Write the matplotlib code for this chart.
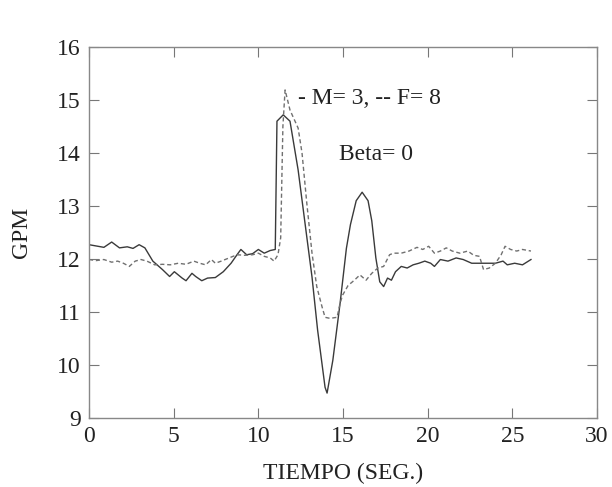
import matplotlib
matplotlib.use('Agg')
import matplotlib.pyplot as plt

# solid curve (M=3)
SOLID_T = [0, 0.88, 1.34, 1.8, 2.26, 2.6, 2.96, 3.3, 3.77, 4.34,
           4.76, 5.04, 5.5, 5.73, 6.08, 6.3, 6.66, 7.0, 7.46, 7.93,
           8.39, 8.74, 8.97, 9.31, 9.66, 10.0, 10.35, 10.7, 11.0, 11.1,
           11.47, 11.87, 12.35, 12.86, 13.17, 13.5, 13.94, 14.06, 14.4, 14.83,
           15.2, 15.44, 15.78, 16.13, 16.48, 16.7, 16.94, 17.17, 17.4, 17.63,
           17.86, 18.1, 18.44, 18.79, 19.14, 19.48, 19.83, 20.18, 20.4, 20.75,
           21.2, 21.68, 22.1, 22.6, 23.06, 23.5, 24.0, 24.45, 24.7, 25.14,
           25.6, 25.95, 26.1]
SOLID_V = [12.27, 12.22, 12.32, 12.21, 12.23, 12.2, 12.27, 12.21, 11.96, 11.8,
           11.67, 11.76, 11.64, 11.59, 11.73, 11.67, 11.59, 11.64, 11.65, 11.76,
           11.92, 12.08, 12.18, 12.08, 12.1, 12.18, 12.11, 12.16, 12.18, 14.6,
           14.72, 14.6, 13.68, 12.42, 11.66, 10.66, 9.58, 9.47, 10.09, 11.17,
           12.2, 12.65, 13.1, 13.26, 13.1, 12.72, 12.02, 11.57, 11.48, 11.64,
           11.6, 11.76, 11.86, 11.83, 11.89, 11.92, 11.96, 11.92, 11.86, 11.99,
           11.96, 12.02, 11.99, 11.92, 11.92, 11.92, 11.92, 11.96, 11.89, 11.92,
           11.89, 11.96, 11.99]

# dashed curve (F=8)
DASH_T = [0, 0.42, 0.88, 1.34, 1.69, 2.03, 2.38, 2.73, 3.07, 3.42,
          3.88, 4.34, 4.8, 5.27, 5.73, 6.19, 6.54, 6.89, 7.23, 7.46,
          7.81, 8.27, 8.74, 9.2, 9.66, 10.0, 10.35, 10.7, 10.93, 11.16,
          11.32, 11.45, 11.58, 11.87, 12.35, 12.58, 12.86, 13.17, 13.45, 13.76,
          13.94, 14.23, 14.65, 14.83, 14.98, 15.3, 15.67, 16.0, 16.36, 16.7,
          17.06, 17.4, 17.75, 17.98, 18.44, 18.9, 19.37, 19.71, 20.06, 20.4,
          20.75, 21.1, 21.45, 21.9, 22.37, 22.72, 23.06, 23.3, 23.64, 24.0,
          24.34, 24.57, 24.9, 25.26, 25.6, 26.1]
DASH_V = [11.99, 11.97, 11.99, 11.94, 11.96, 11.92, 11.86, 11.96, 11.99, 11.96,
          11.89, 11.9, 11.89, 11.92, 11.9, 11.96, 11.92, 11.89, 11.99, 11.92,
          11.96, 12.02, 12.08, 12.07, 12.08, 12.11, 12.05, 12.02, 11.96, 12.08,
          12.4, 14.5, 15.19, 14.81, 14.47, 14.0, 13.06, 12.11, 11.48, 11.1,
          10.9, 10.88, 10.9, 11.17, 11.32, 11.5, 11.6, 11.7, 11.6, 11.73,
          11.83, 11.86, 12.08, 12.11, 12.11, 12.15, 12.22, 12.18, 12.24, 12.11,
          12.15, 12.21, 12.15, 12.11, 12.15, 12.07, 12.05, 11.8, 11.83, 11.92,
          12.08, 12.24, 12.18, 12.15, 12.18, 12.15]

X_TICKS = [0, 5, 10, 15, 20, 25, 30]
Y_TICKS = [9, 10, 11, 12, 13, 14, 15, 16]

plt.rcParams['font.family'] = ['Liberation Serif', 'DejaVu Serif']
plt.rcParams['font.size'] = 17

fig = plt.figure(figsize=(6.12, 4.87), dpi=100)
ax = fig.add_axes([89 / 612, 1 - 418 / 487, 508 / 612, 371 / 487])

ax.plot(SOLID_T, SOLID_V, color='#3a3a3a', linewidth=1.0)
ax.plot(DASH_T, DASH_V, color='#707070', linewidth=1.0, dashes=(3, 2))

ax.set_xlim(0, 30)
ax.set_ylim(9, 16)
ax.set_xticks(X_TICKS)
ax.set_yticks(Y_TICKS)
ax.tick_params(direction='in', top=True, right=True, length=7, width=0.8,
               color='#777777', labelcolor='#222222', pad=6)
for sp in ax.spines.values():
    sp.set_color('#888888')
    sp.set_linewidth(1.0)

ax.text(12.34, 15.03, '- M= 3, -- F= 8', color='#222222', va='center', ha='left')
ax.text(14.76, 13.97, 'Beta= 0', color='#222222', va='center', ha='left')

ax.set_xlabel('TIEMPO (SEG.)', color='#222222', labelpad=11)
ax.set_ylabel('GPM', color='#222222', labelpad=18)

fig.savefig('out.png', dpi=100)
